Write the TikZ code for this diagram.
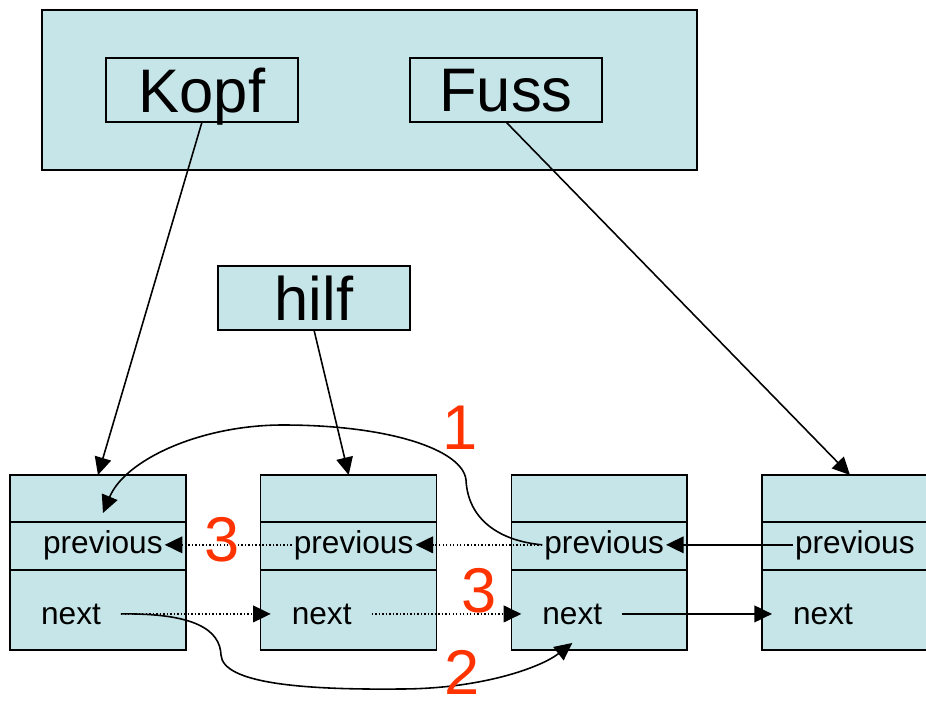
\documentclass[tikz,border=0pt]{standalone}
\usepackage{fontspec}
\setmainfont{Liberation Sans}
\usetikzlibrary{calc, positioning}
\usetikzlibrary{arrows.meta}
\definecolor{cellfill}{RGB}{198,229,232}
\definecolor{stepred}{RGB}{255,51,0}

\begin{document}
\begin{tikzpicture}[x=0.02cm, y=-0.02cm,
  cell/.style={draw, line width=0.9pt, fill=cellfill, minimum width=3.52cm, inner sep=0pt, outer sep=0pt},
  field/.style={font=\fontsize{18}{20}\selectfont, inner xsep=1pt, inner ysep=0pt},
  big/.style={font=\fontsize{35}{40}\selectfont, text depth=0pt},
  num/.style={text=stepred, font=\fontsize{36}{40}\selectfont, inner sep=0pt},
  ptr/.style={-{Triangle[length=10pt, width=9.5pt]}, line width=0.9pt},
  dots/.style={ptr, dash pattern=on 0.8pt off 1.2pt}]
\clip (0,0) rectangle (926,702);

% list object with head and tail
\node[cell, minimum width=13.1cm, minimum height=3.2cm] (liste) at (369.5,90) {};
\node[cell, big, line width=0.6pt, minimum width=3.84cm, minimum height=1.28cm] (kopf) at (202,90) {Kopf};
\node[cell, big, line width=0.6pt, minimum width=3.84cm, minimum height=1.28cm] (fuss) at (506,90) {Fuss};
\node[cell, big, line width=0.6pt, minimum width=3.84cm, minimum height=1.28cm] (hilf) at (314,298) {hilf};

% the four elements
\foreach \x [count=\i] in {10,260.7,511.3,762} {
  \node[cell, minimum height=0.94cm, anchor=north west] (top\i) at (\x,475) {};
  \node[cell, minimum height=0.96cm, below=0pt of top\i] (pbox\i) {};
  \node[cell, minimum height=1.6cm, below=0pt of pbox\i] (nbox\i) {};
  \node[field, anchor=base west] (prev\i) at (\x+31,553) {previous};
  \node[field, anchor=base west] (next\i) at (\x+29,624) {next};
}

\coordinate (n1out) at ($(next1.east)+(18,0)$);
\coordinate (n2out) at ($(next2.east)+(18,0)$);
\coordinate (n3out) at ($(next3.east)+(18,0)$);

\draw[ptr] (kopf.south) -- (top1.north);
\draw[ptr] (fuss.south) -- (top4.north);
\draw[ptr] (hilf.south) -- (top2.north);

\draw[dots] (prev2.west) -- (prev1.east);
\draw[dots] (prev3.west) -- (prev2.east);
\draw[ptr] (prev4.west) -- (prev3.east);
\draw[dots, shorten >=0.38cm] (n1out) -- (next2.west);
\draw[dots, shorten >=0.38cm] (n2out) -- (next3.west);
\draw[ptr, shorten >=0.38cm] (n3out) -- (next4.west);

% step 1: previous pointer bent back to the first element
\draw[ptr] (prev3.west) .. controls (500,541) and (468,520) .. (466,480)
  .. controls (463,450) and (390,425) .. (283,425)
  .. controls (200,425) and (125,460) .. ($(top1.south)+(5,-9)$);
% step 2: next pointer of the first element
\draw[ptr] (n1out) .. controls (195,613) and (220,630) .. (221,655)
  .. controls (223,683) and (300,690) .. (400,689)
  .. controls (480,689) and (540,668) .. ($(nbox3.south)+(-27,-7)$);

\node[num] (s1) at (460,428) {1};
\node[num] (s2) at (462,672) {2};
\node[num] (s3a) at (222,540) {3};
\node[num] (s3b) at (479,591) {3};
\end{tikzpicture}
\end{document}
